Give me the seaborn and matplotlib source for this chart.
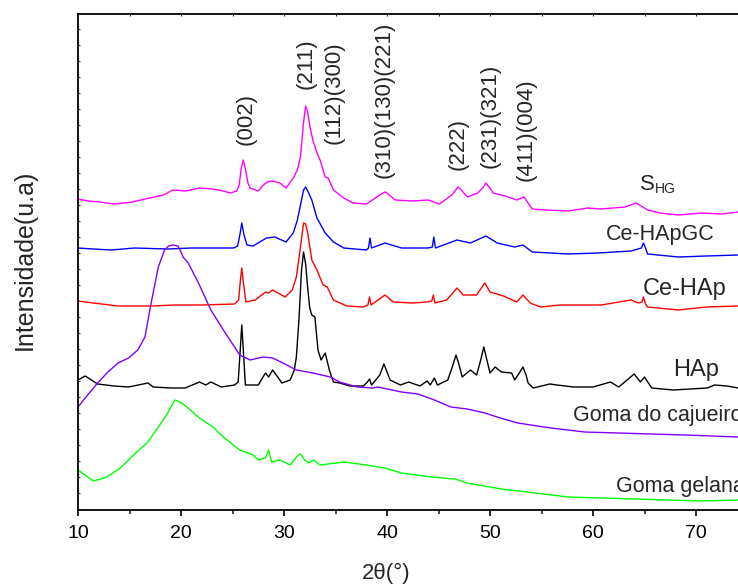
import numpy as np
import pandas as pd
import matplotlib
matplotlib.use("Agg")
import matplotlib.pyplot as plt
import seaborn as sns

# --- diffraction patterns (2theta in degrees, intensity in arbitrary, stacked units) ---
shg_2t = [10.0, 11.0, 12.1, 13.5, 15.3, 16.5, 18.3, 19.2, 20.5, 21.8, 23.1, 24.1, 24.8, 25.4,
          25.65, 25.85, 26.05, 26.25, 26.5, 26.7, 27.5, 28.0, 28.4, 28.9, 29.6, 30.2, 30.9,
          31.3, 31.6, 31.9, 32.1, 32.3, 32.5, 32.8, 33.1, 33.5, 34.0, 34.3, 34.8, 35.8, 36.7,
          38.0, 39.3, 39.8, 40.0, 40.8, 42.5, 44.0, 45.1, 46.3, 46.9, 47.3, 47.8, 48.8, 49.3,
          49.6, 50.0, 50.3, 51.5, 52.6, 53.3, 54.1, 55.5, 57.6, 59.5, 60.8, 63.1, 64.2, 65.3,
          66.5, 68.3, 70.5, 72.5, 74.1]
shg_int = [311, 309, 308, 306, 308, 311, 315, 320, 319, 322, 321, 319, 317, 319,
           325, 342, 350, 341, 327, 322, 319, 325, 328, 329, 327, 322, 332,
           340, 353, 388, 404, 398, 384, 370, 360, 350, 333, 332, 320, 312, 307,
           306, 315, 318, 317, 310, 309, 310, 306, 315, 323, 319, 313, 317, 322,
           327, 322, 317, 314, 310, 313, 301, 300, 299, 302, 301, 303, 307, 300,
           297, 295, 297, 296, 298]

cegc_2t = [10.0, 11.5, 13.2, 15.5, 18.7, 21.0, 23.0, 25.1, 25.5, 25.75, 25.9, 26.1, 26.4,
           27.0, 28.3, 29.1, 30.2, 30.9, 31.3, 31.6, 31.9, 32.1, 32.4, 32.7, 33.2, 34.0, 34.8,
           35.8, 38.0, 38.2, 38.35, 38.5, 39.8, 41.4, 44.0, 44.4, 44.55, 44.7, 46.8, 48.1,
           49.6, 50.7, 52.4, 53.2, 54.1, 57.6, 60.5, 63.7, 64.7, 64.9, 65.1, 65.3, 68.3, 71.0,
           74.1]
cegc_int = [262, 261, 260, 262, 261, 262, 262, 262, 264, 277, 287, 276, 265,
            264, 272, 273, 268, 277, 290, 305, 320, 323, 317, 310, 292, 277, 268,
            262, 260, 262, 272, 262, 267, 262, 262, 263, 273, 262, 270, 267,
            274, 267, 263, 265, 258, 256, 257, 259, 262, 267, 262, 256, 253, 254,
            255]

ceh_2t = [10.0, 11.5, 13.9, 17.0, 19.5, 22.0, 25.2, 25.6, 25.75, 25.9, 26.05, 26.3, 27.2,
          28.2, 28.5, 28.9, 29.6, 30.1, 30.8, 31.2, 31.6, 31.9, 32.1, 32.3, 32.7, 33.2, 33.8,
          34.2, 34.8, 36.1, 37.7, 38.15, 38.3, 38.45, 39.8, 40.6, 42.5, 43.9, 44.35, 44.5,
          44.65, 45.8, 46.8, 47.4, 48.7, 49.5, 50.0, 51.3, 52.6, 53.2, 53.9, 54.9, 56.8, 60.8,
          63.7, 64.4, 64.75, 64.9, 65.1, 65.3, 68.3, 71.0, 74.1]
ceh_int = [209, 207, 204, 204, 205, 205, 206, 210, 228, 242, 228, 208, 210,
           218, 217, 220, 216, 213, 220, 233, 263, 287, 286, 277, 250, 240, 225,
           223, 210, 204, 203, 205, 213, 205, 215, 208, 207, 208, 209, 215,
           207, 210, 222, 215, 215, 227, 218, 214, 208, 215, 207, 203, 205, 205,
           210, 207, 208, 213, 206, 203, 200, 203, 204]

hap_2t = [10.0, 10.7, 11.9, 13.5, 14.9, 16.8, 17.3, 19.0, 20.4, 21.8, 22.4, 22.9, 23.9, 25.2,
          25.55, 25.75, 25.9, 26.05, 26.25, 27.5, 28.2, 28.5, 28.9, 29.8, 30.6, 31.0, 31.2,
          31.45, 31.7, 31.9, 32.1, 32.3, 32.5, 32.7, 33.0, 33.3, 33.6, 34.0, 34.4, 34.8, 35.4,
          36.4, 37.7, 38.1, 38.3, 38.5, 39.3, 39.7, 40.3, 41.3, 42.1, 43.2, 43.9, 44.2, 44.6,
          44.9, 45.9, 46.4, 46.7, 47.0, 47.3, 48.1, 48.7, 49.1, 49.4, 49.7, 50.0, 50.5, 51.1,
          52.1, 52.4, 52.9, 53.2, 53.5, 53.7, 54.2, 55.8, 56.5, 58.1, 60.0, 61.7, 62.5, 64.0,
          64.6, 65.0, 65.7, 67.8, 71.1, 71.8, 73.0, 74.1]
hap_int = [130, 134, 126, 124, 123, 127, 123, 122, 122, 128, 125, 128, 123, 125,
           128, 160, 185, 160, 125, 125, 137, 133, 140, 127, 130, 140, 153,
           190, 240, 258, 246, 222, 202, 195, 193, 160, 150, 157, 140, 128, 127,
           124, 124, 128, 131, 125, 135, 146, 130, 125, 128, 124, 129, 125, 132,
           125, 130, 145, 155, 145, 133, 140, 135, 150, 163, 150, 137, 143, 138,
           137, 130, 138, 143, 135, 127, 122, 126, 125, 123, 123, 128, 123, 136,
           128, 133, 122, 120, 122, 125, 124, 122]

caj_2t = [10.0, 10.7, 11.9, 12.9, 13.9, 14.9, 15.8, 16.5, 17.1, 17.8, 18.4, 18.8, 19.2, 19.7,
          20.0, 20.2, 20.7, 21.7, 22.9, 24.3, 25.2, 25.7, 26.7, 28.0, 28.9, 29.9, 31.2, 32.8,
          34.5, 35.4, 37.1, 38.6, 39.1, 40.5, 41.4, 43.0, 44.6, 46.2, 47.8, 49.5, 51.0, 52.7,
          55.9, 59.2, 62.4, 65.6, 68.9, 71.5, 74.1]
caj_int = [103, 112, 127, 138, 147, 152, 160, 173, 207, 243, 260, 264, 265, 264,
           258, 253, 247, 227, 200, 177, 163, 155, 150, 153, 152, 147, 140, 137,
           133, 128, 123, 122, 123, 120, 118, 116, 110, 103, 101, 97, 92, 87,
           82, 78, 77, 76, 75, 74, 73]

gel_2t = [10.0, 11.5, 12.8, 14.1, 15.7, 16.7, 17.6, 18.6, 19.4, 20.1, 20.9, 21.8, 23.1, 24.1,
          25.7, 27.0, 27.5, 28.2, 28.5, 28.8, 29.6, 30.6, 31.3, 31.6, 32.0, 32.4, 32.9, 33.5,
          35.8, 38.0, 39.8, 41.4, 44.3, 46.6, 47.8, 51.1, 54.4, 57.6, 60.8, 64.1, 67.3, 70.5,
          74.1]
gel_int = [40, 29, 33, 42, 58, 67, 80, 95, 110, 107, 100, 92, 83, 73,
           60, 55, 50, 52, 60, 48, 50, 45, 54, 56, 50, 47, 50, 45,
           48, 45, 42, 37, 33, 31, 27, 21, 17, 13, 12, 11, 10, 9,
           10]

series = {
    "S_HG": (shg_2t, shg_int),
    "Ce-HApGC": (cegc_2t, cegc_int),
    "Ce-HAp": (ceh_2t, ceh_int),
    "HAp": (hap_2t, hap_int),
    "Goma do cajueiro": (caj_2t, caj_int),
    "Goma gelana": (gel_2t, gel_int),
}
colors = {
    "S_HG": "#FF00FF",
    "Ce-HApGC": "#0000FF",
    "Ce-HAp": "#FF0000",
    "HAp": "#000000",
    "Goma do cajueiro": "#8000FF",
    "Goma gelana": "#00FF00",
}

# Miller indices of the apatite reflections
hkl_labels = ["(002)", "(211)", "(112)(300)", "(310)(130)(221)", "(222)", "(231)(321)", "(411)(004)"]
hkl_x = [26.3, 32.1, 34.85, 39.7, 46.9, 50.0, 53.5]
hkl_y = [391, 446, 417, 410, 366, 394, 380]

frames = [pd.DataFrame({"2theta": t, "intensity": i, "amostra": name})
          for name, (t, i) in series.items()]
df = pd.concat(frames, ignore_index=True)

sns.set_style("ticks")
plt.rcParams["font.family"] = ["Liberation Sans", "DejaVu Sans"]

W, H = 738, 584
fig = plt.figure(figsize=(W / 100, H / 100), dpi=100)
ax = fig.add_axes([78 / W, 74 / H, 660 / W, 496 / H])

sns.lineplot(data=df, x="2theta", y="intensity", hue="amostra", palette=colors,
             estimator=None, legend=False, linewidth=1.0, ax=ax)

ax.set_xlim(10, 10 + 660 / 10.3)
ax.set_ylim(0, 496)
ax.set_xlabel("")
ax.set_ylabel("")

for sp in ["left", "bottom", "top"]:
    ax.spines[sp].set_linewidth(1.3)
    ax.spines[sp].set_color("black")
ax.spines["right"].set_visible(False)

ax.set_xticks(np.arange(10, 71, 10))
ax.set_xticks(np.arange(15, 75, 10), minor=True)
ax.tick_params(axis="x", which="major", direction="out", length=4.5, width=1.2,
               labelsize=14, pad=6, colors="black")
ax.tick_params(axis="x", which="minor", direction="out", length=2.8, width=1.2)
ax.set_yticks(np.arange(1, 496, 16))
ax.tick_params(axis="y", which="major", direction="in", length=1.5, width=0.8,
               labelleft=False)

top = ax.secondary_xaxis("top")
top.set_xticks(np.arange(15, 75, 5))
top.tick_params(direction="in", length=1.5, width=0.8, labeltop=False)
top.spines["top"].set_visible(False)

for lab, x, y in zip(hkl_labels, hkl_x, hkl_y):
    ax.text(x, y, lab, rotation=90, ha="center", va="center", fontsize=16)

ax.text(64.56, 320, "S", fontsize=16, ha="left", va="baseline")
ax.text(66.0, 317, "HG", fontsize=10, ha="left", va="baseline")
ax.text(61.26, 270, "Ce-HApGC", fontsize=15.5, ha="left", va="baseline")
ax.text(64.85, 215, "Ce-HAp", fontsize=17, ha="left", va="baseline")
ax.text(67.77, 134, "HAp", fontsize=17, ha="left", va="baseline")
ax.text(58.06, 89, "Goma do cajueiro", fontsize=15.5, ha="left", va="baseline")
ax.text(62.23, 18, "Goma gelana", fontsize=15.5, ha="left", va="baseline")

fig.text(25 / W, 1 - 260 / H, "Intensidade(u.a)", rotation=90, ha="center", va="center",
         fontsize=18)
fig.text(386 / W, 1 - 573 / H, "2θ(°)", ha="center", va="center", fontsize=16)

fig.savefig("out.png", dpi=100)
